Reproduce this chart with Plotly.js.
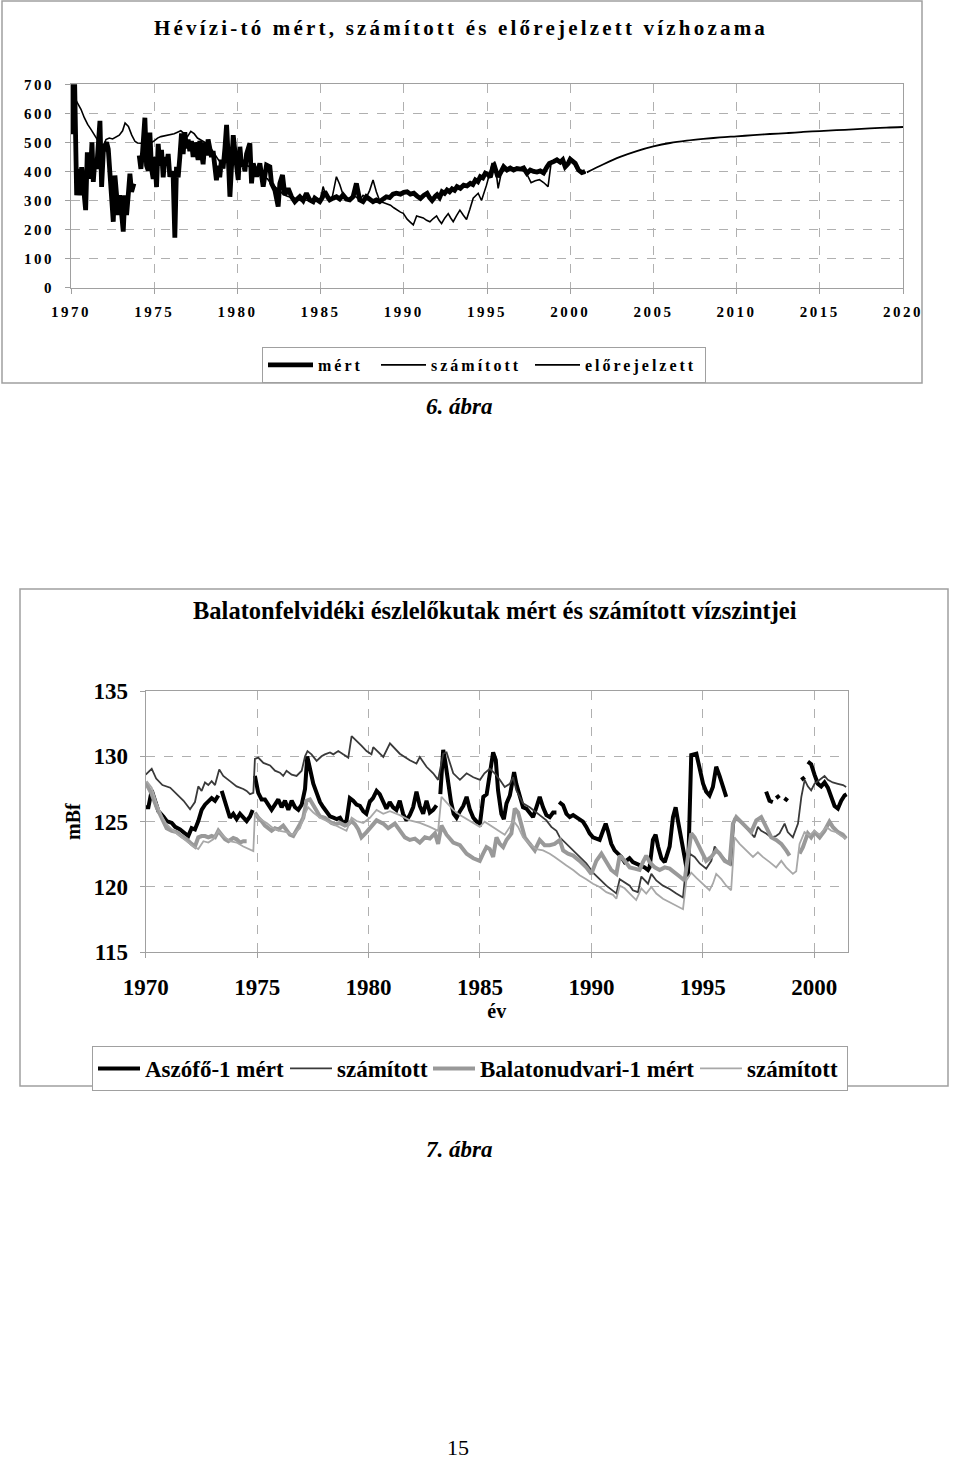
<!DOCTYPE html>
<html><head><meta charset="utf-8">
<script src="https://cdn.plot.ly/plotly-3.0.1.min.js"></script>
<style>
html,body{margin:0;padding:0;background:#fff;}
#chart{width:960px;height:1462px;}
#chart .gtitle{letter-spacing:3.2px;}
#chart .xtick text,#chart .ytick text{letter-spacing:2.5px;}
#chart .legend .legendtext{letter-spacing:3px;}
</style></head><body><div id="chart"></div><script>
// ===== 6. ábra: Hévízi-tó vízhozama (év, érték) =====
const hevMert = [[1970.00,528],[1970.10,700],[1970.22,700],[1970.34,318],[1970.44,409],[1970.54,318],[1970.64,415],[1970.74,352],[1970.88,267],[1970.98,466],
[1971.10,375],[1971.18,409],[1971.26,500],[1971.34,364],[1971.44,443],[1971.54,409],[1971.64,494],[1971.74,574],[1971.84,347],[1971.94,466],
[1972.04,489],[1972.14,500],[1972.24,477],[1972.34,386],[1972.44,284],[1972.54,227],[1972.64,386],[1972.74,318],[1972.84,250],[1972.94,318],
[1973.04,261],[1973.14,193],[1973.24,318],[1973.34,250],[1973.44,318],[1973.54,392],[1973.64,330],[1973.78,358],[1973.90,null],
[1974.10,455],[1974.20,409],[1974.30,466],[1974.44,585],[1974.54,420],[1974.64,403],[1974.74,534],[1974.84,409],[1974.94,375],
[1975.04,450],[1975.14,346],[1975.24,495],[1975.34,420],[1975.44,474],[1975.54,380],[1975.64,450],[1975.74,420],[1975.84,460],[1975.94,382],
[1976.04,400],[1976.14,382],[1976.24,172],[1976.34,416],[1976.44,380],[1976.54,450],[1976.64,531],[1976.74,460],[1976.84,535],[1976.94,480],
[1977.04,510],[1977.14,470],[1977.24,505],[1977.34,450],[1977.44,500],[1977.54,470],[1977.64,440],[1977.74,505],[1977.84,470],[1977.94,425],
[1978.04,500],[1978.14,455],[1978.24,510],[1978.34,480],[1978.44,450],[1978.54,470],[1978.64,400],[1978.74,370],[1978.84,420],[1978.94,380],
[1979.04,440],[1979.14,410],[1979.25,480],[1979.35,560],[1979.45,450],[1979.55,313],[1979.65,420],[1979.75,525],[1979.85,470],
[1980.05,371],[1980.15,485],[1980.25,416],[1980.35,440],[1980.45,400],[1980.55,460],[1980.75,497],[1980.85,359],[1980.95,428],
[1981.15,382],[1981.35,428],[1981.55,348],[1981.75,422],[1981.95,416],[1982.05,359],[1982.25,336],[1982.45,279],[1982.55,359],[1982.71,388],[1982.85,319],
[1983.05,342],[1983.25,313],[1983.45,296],[1983.60,305],[1983.75,313],[1983.95,300],[1984.15,325],[1984.35,302],[1984.55,296],[1984.65,308],[1984.80,300],[1984.95,296],
[1985.10,310],[1985.25,330],[1985.45,310],[1985.55,302],[1985.75,308],[1985.95,313],[1986.15,305],[1986.35,319],[1986.55,305],[1986.75,302],[1986.95,313],
[1987.15,359],[1987.35,302],[1987.55,296],[1987.75,313],[1987.95,305],[1988.15,296],[1988.35,302],[1988.55,296],[1988.75,305],[1988.95,313],
[1989.15,310],[1989.35,322],[1989.55,325],[1989.80,322],[1990.00,328],[1990.20,330],[1990.40,322],[1990.60,325],[1990.80,315],
[1991.00,307],[1991.20,318],[1991.40,325],[1991.55,310],[1991.70,300],[1991.90,315],[1992.00,320],[1992.15,310],[1992.30,330],[1992.45,325],[1992.60,336],[1992.75,330],[1992.90,340],
[1993.05,335],[1993.20,348],[1993.40,342],[1993.60,353],[1993.80,350],[1994.00,359],[1994.15,355],[1994.30,371],[1994.45,365],[1994.60,382],[1994.75,378],[1994.90,394],
[1995.05,390],[1995.20,380],[1995.40,428],[1995.55,390],[1995.65,382],[1995.80,394],[1996.00,416],[1996.20,405],[1996.40,412],[1996.60,405],[1996.80,410],
[1997.00,408],[1997.20,412],[1997.40,394],[1997.60,405],[1997.80,400],[1998.00,398],[1998.20,402],[1998.40,395],[1998.60,415],[1998.75,428],
[1999.00,434],[1999.20,440],[1999.40,432],[1999.55,440],[1999.70,416],[1999.85,425],[2000.00,442],[2000.15,435],[2000.30,428],[2000.50,405],[2000.70,396],[2000.90,400]];

const hevSzamitott = [[1970.20,655],[1970.30,645],[1970.45,630],[1970.60,614],[1970.80,585],[1971.00,562],[1971.20,545],[1971.40,528],[1971.60,508],[1971.75,490],[1971.90,480],
[1972.10,510],[1972.30,515],[1972.50,512],[1972.70,520],[1972.90,525],[1973.10,540],[1973.25,567],[1973.45,555],[1973.65,525],[1973.85,503],
[1974.00,498],[1974.20,497],[1974.40,498],[1974.60,497],[1974.80,498],[1975.00,505],[1975.20,515],[1975.40,520],[1975.60,522],[1975.80,525],
[1976.00,528],[1976.20,530],[1976.40,535],[1976.60,540],[1976.80,530],[1977.00,520],[1977.20,538],[1977.40,530],[1977.60,515],[1977.80,508],
[1978.00,500],[1978.20,495],[1978.40,480],[1978.60,462],[1978.80,445],[1979.00,428],[1979.20,440],[1979.40,430],[1979.60,420],[1979.80,425],
[1980.00,430],[1980.20,420],[1980.40,416],[1980.60,420],[1980.80,416],[1981.00,410],[1981.20,400],[1981.40,395],[1981.60,380],[1981.80,375],
[1982.00,360],[1982.20,350],[1982.40,340],[1982.60,330],[1982.80,320],[1983.00,315],[1983.20,312],[1983.40,310],[1983.60,305],[1983.80,300],
[1984.00,305],[1984.20,300],[1984.40,302],[1984.60,298],[1984.80,300],[1985.00,305],[1985.15,348],[1985.30,320],[1985.50,305],[1985.70,312],[1985.95,382],
[1986.15,355],[1986.35,320],[1986.55,305],[1986.75,300],[1986.95,320],[1987.15,310],[1987.35,302],[1987.55,318],[1987.75,310],[1987.95,335],
[1988.15,371],[1988.35,330],[1988.57,296],[1988.80,292],[1989.00,288],[1989.20,284],[1989.40,275],[1989.60,266],[1989.80,260],[1989.97,256],
[1990.20,236],[1990.40,225],[1990.57,216],[1990.77,247],[1990.97,243],[1991.17,240],[1991.37,232],[1991.57,227],[1991.77,238],[1991.97,247],
[1992.12,232],[1992.27,221],[1992.47,240],[1992.67,255],[1992.82,240],[1992.97,227],[1993.17,248],[1993.37,267],[1993.57,250],[1993.77,235],
[1993.97,270],[1994.17,308],[1994.47,325],[1994.67,300],[1994.97,353],[1995.27,416],[1995.47,434],[1995.67,342],[1995.87,399],
[1996.10,405],[1996.40,408],[1996.70,404],[1997.00,406],[1997.25,400],[1997.45,385],[1997.65,361],[1997.90,368],[1998.15,372],[1998.40,362],[1998.67,348],
[1998.85,428],[1999.05,432],[1999.30,438],[1999.55,435],[1999.80,420],[2000.00,438],[2000.20,430],[2000.45,405],[2000.70,398],[2000.95,397]];

const hevElorejelzettYear = [2001,2002,2003,2004,2005,2006,2007,2008,2009,2010,2011,2012,2013,2014,2015,2016,2017,2018,2019,2020];
const hevElorejelzettQ    = [397,425,450,470,486,498,506,512,517,521,525,529,532,536,539,542,545,548,551,553];

const hevXTicks = [1970,1975,1980,1985,1990,1995,2000,2005,2010,2015,2020];
const hevYTicks = [0,100,200,300,400,500,600,700];

// ===== 7. ábra: Balatonfelvidéki észlelőkutak (év, mBf) =====
const aszofoMert = [[1970.00,126.1],[1970.12,126.1],[1970.27,127.4],[1970.42,126.5],[1970.57,125.8],[1970.79,125.4],[1970.94,125.05],[1971.17,124.9],[1971.32,124.6],[1971.54,124.4],[1971.76,124.15],[1971.91,123.9],
[1972.06,124.5],[1972.21,124.4],[1972.36,125.05],[1972.51,125.9],[1972.66,126.3],[1972.81,126.6],[1972.96,126.8],[1973.11,126.6],[1973.26,127.0],[1973.33,null],[1973.41,127.35],[1973.56,126.6],[1973.66,125.9],[1973.78,125.3],[1973.93,125.6],
[1974.08,125.2],[1974.23,125.6],[1974.38,125.3],[1974.53,125.05],[1974.68,125.4],[1974.80,125.9],[1974.85,null],[1974.90,128.5],[1974.97,127.9],[1975.05,127.2],[1975.20,126.7],[1975.35,126.7],[1975.50,126.3],[1975.65,125.9],[1975.80,126.3],[1975.95,126.7],
[1976.10,126.1],[1976.25,126.6],[1976.40,125.9],[1976.55,126.6],[1976.70,126.1],[1976.85,125.9],[1977.00,126.3],[1977.15,127.5],[1977.25,130.0],[1977.37,128.9],[1977.52,127.9],[1977.67,127.2],[1977.82,126.5],[1977.97,126.1],
[1978.12,125.8],[1978.27,125.4],[1978.42,125.3],[1978.57,125.2],[1978.72,125.3],[1978.86,124.9],[1979.01,125.05],[1979.16,126.8],[1979.31,126.6],[1979.46,126.3],[1979.61,126.2],[1979.76,125.8],[1979.90,125.6],
[1980.05,126.5],[1980.20,126.8],[1980.36,127.35],[1980.50,127.1],[1980.65,126.6],[1980.80,126.0],[1980.95,126.5],[1981.10,126.1],[1981.25,125.9],[1981.40,126.6],[1981.55,125.6],[1981.70,125.1],[1981.85,125.5],
[1982.00,126.1],[1982.15,127.3],[1982.30,126.2],[1982.45,125.6],[1982.60,126.6],[1982.75,125.7],[1982.90,125.9],[1983.05,126.25],[1983.15,null],[1983.22,127.1],[1983.35,130.5],[1983.45,129.5],[1983.58,127.9],[1983.70,126.5],[1983.82,125.6],[1983.95,125.3],
[1984.10,125.8],[1984.25,126.2],[1984.40,126.9],[1984.55,125.9],[1984.70,125.3],[1984.85,125.0],[1985.00,124.85],[1985.15,126.9],[1985.30,127.1],[1985.44,128.7],[1985.59,130.3],[1985.71,129.7],[1985.81,127.4],[1985.96,125.6],
[1986.07,125.2],[1986.19,126.4],[1986.34,127.0],[1986.41,127.65],[1986.53,128.8],[1986.63,127.9],[1986.78,126.9],[1986.93,126.1],[1987.08,126.0],[1987.23,125.7],[1987.38,125.35],[1987.53,126.1],[1987.68,126.9],[1987.83,126.1],[1987.98,125.5],
[1988.13,125.35],[1988.28,125.7],[1988.43,125.7],[1988.49,null],[1988.55,126.5],[1988.73,126.25],[1988.88,125.6],[1989.03,125.35],[1989.18,125.5],[1989.33,125.35],[1989.47,125.2],[1989.62,125.0],[1989.77,124.6],[1989.92,124.1],
[1990.07,123.8],[1990.22,123.7],[1990.37,123.6],[1990.52,124.3],[1990.64,124.85],[1990.74,124.3],[1990.89,123.3],[1991.04,122.8],[1991.19,122.55],[1991.34,122.3],[1991.49,121.9],[1991.71,122.2],[1991.86,121.9],
[1992.01,121.8],[1992.16,121.65],[1992.39,121.5],[1992.54,121.3],[1992.61,121.5],[1992.76,123.6],[1992.88,124.0],[1992.99,123.1],[1993.14,122.2],[1993.29,121.9],[1993.51,123.1],[1993.66,125.35],[1993.78,126.1],[1993.88,125.1],
[1994.03,123.8],[1994.18,122.3],[1994.33,120.8],[1994.48,130.1],[1994.71,130.2],[1994.86,129.2],[1995.01,127.9],[1995.15,127.3],[1995.30,127.0],[1995.45,127.65],[1995.60,129.2],[1995.75,128.5],[1995.90,127.65],[1996.05,126.9],[1996.20,null],
[1997.84,127.3],[1997.99,126.6],[1998.14,126.5],[1998.20,null],[1998.29,126.8],[1998.44,127.0],[1998.52,null],[1998.66,126.8],[1998.81,126.6],[1998.90,null],
[1999.42,128.2],[1999.57,128.4],[1999.63,null],[1999.71,129.6],[1999.86,129.4],[2000.01,128.6],[2000.16,127.9],[2000.31,127.7],[2000.46,128.0],[2000.61,127.6],[2000.76,126.9],[2000.91,126.2],[2001.06,126.0],[2001.21,126.6],[2001.36,127.0],[2001.45,127.1]];

const aszofoSzamitott = [[1970.00,128.6],[1970.27,129.05],[1970.47,128.3],[1970.75,127.8],[1971.10,127.6],[1971.40,127.1],[1971.70,126.6],[1971.99,125.95],[1972.21,126.5],[1972.36,127.7],[1972.51,127.35],[1972.66,128.0],[1972.81,127.8],[1972.96,128.1],
[1973.11,127.8],[1973.30,129.0],[1973.48,128.5],[1973.78,128.1],[1974.08,127.7],[1974.38,127.5],[1974.53,127.35],[1974.68,127.1],[1974.83,127.2],[1974.90,129.8],[1975.05,129.9],[1975.28,129.5],[1975.58,129.3],[1975.80,128.9],
[1976.02,128.75],[1976.17,128.5],[1976.32,128.9],[1976.55,128.6],[1976.77,128.5],[1977.00,128.9],[1977.15,130.0],[1977.26,130.4],[1977.44,130.15],[1977.67,129.65],[1977.89,130.0],[1978.04,130.15],[1978.27,130.3],[1978.42,130.15],[1978.64,130.4],[1978.86,130.15],
[1979.09,129.9],[1979.24,131.55],[1979.46,131.2],[1979.69,130.8],[1979.91,130.4],[1980.13,130.15],[1980.21,130.7],[1980.66,129.95],[1980.96,131.0],[1981.40,130.2],[1981.85,129.7],[1982.15,129.45],[1982.30,129.95],[1982.60,129.2],[1982.90,128.7],
[1983.12,128.2],[1983.35,130.2],[1983.50,130.3],[1983.80,128.7],[1984.10,128.2],[1984.40,128.7],[1984.70,128.4],[1985.00,128.2],[1985.20,128.7],[1985.44,129.05],[1985.66,128.7],[1985.89,128.2],[1986.11,127.65],[1986.34,127.9],[1986.49,128.4],
[1986.63,127.4],[1986.93,126.4],[1987.23,126.1],[1987.53,125.7],[1987.75,125.35],[1987.98,125.1],[1988.20,124.6],[1988.43,124.3],[1988.58,123.8],[1988.88,123.3],[1989.18,122.8],[1989.47,122.3],[1989.77,121.8],
[1990.07,121.1],[1990.37,120.6],[1990.67,120.1],[1990.97,119.7],[1991.12,119.5],[1991.27,120.6],[1991.49,120.35],[1991.72,120.1],[1991.86,119.75],[1992.09,119.6],[1992.24,120.8],[1992.39,120.5],[1992.54,120.25],[1992.69,121.0],[1992.91,120.5],
[1993.21,120.1],[1993.51,119.85],[1993.81,119.5],[1994.11,119.2],[1994.26,121.8],[1994.41,122.55],[1994.63,122.3],[1994.86,121.8],[1995.15,121.4],[1995.38,122.0],[1995.53,123.1],[1995.75,122.55],[1996.05,122.0],[1996.27,121.65],
[1996.42,125.2],[1996.57,125.1],[1996.80,124.8],[1996.95,124.5],[1997.17,124.1],[1997.32,123.8],[1997.47,124.6],[1997.62,124.3],[1997.84,124.1],[1998.07,123.8],[1998.29,123.9],[1998.44,124.1],[1998.67,124.85],[1998.81,124.2],
[1999.04,123.8],[1999.27,124.85],[1999.42,126.9],[1999.57,128.2],[1999.71,127.7],[1999.86,127.4],[2000.01,127.9],[2000.24,128.2],[2000.46,128.5],[2000.61,128.2],[2000.83,128.0],[2001.06,127.9],[2001.29,127.8],[2001.43,127.65]];

const balatonudvariMert = [[1970.00,128.0],[1970.27,127.1],[1970.49,126.1],[1970.72,125.2],[1970.94,124.5],[1971.17,124.3],[1971.39,124.2],[1971.61,123.9],[1971.84,123.65],[1972.06,123.3],[1972.21,123.1],[1972.36,123.8],[1972.51,123.9],[1972.66,123.9],
[1972.81,123.8],[1972.96,123.9],[1973.11,123.8],[1973.26,124.3],[1973.41,124.0],[1973.56,123.65],[1973.71,123.5],[1973.93,123.75],[1974.08,123.65],[1974.23,123.4],[1974.38,123.5],[1974.53,123.5],[1974.60,null],
[1974.90,125.7],[1975.05,125.3],[1975.20,125.05],[1975.35,124.7],[1975.50,124.5],[1975.65,124.3],[1975.80,124.5],[1975.95,124.4],[1976.17,124.7],[1976.32,124.4],[1976.47,124.0],[1976.62,123.9],[1976.77,124.3],[1976.92,124.8],
[1977.07,125.3],[1977.22,126.6],[1977.37,126.7],[1977.52,126.3],[1977.67,125.9],[1977.82,125.4],[1978.04,125.3],[1978.19,125.05],[1978.34,124.9],[1978.49,124.8],[1978.71,124.9],[1978.94,124.7],[1979.09,124.8],[1979.24,125.05],[1979.39,124.8],[1979.54,124.4],[1979.68,123.8],
[1979.91,124.2],[1980.13,124.6],[1980.36,125.1],[1980.66,124.85],[1980.88,124.5],[1981.18,124.85],[1981.40,124.3],[1981.63,123.8],[1981.85,123.6],[1982.08,123.7],[1982.30,123.4],[1982.53,123.8],[1982.75,123.7],[1982.98,124.1],[1983.12,123.3],
[1983.27,124.7],[1983.50,124.0],[1983.80,123.4],[1984.10,123.2],[1984.40,122.55],[1984.70,122.2],[1984.99,122.0],[1985.14,122.55],[1985.29,123.05],[1985.44,122.9],[1985.59,122.3],[1985.74,123.8],[1985.89,123.3],[1986.04,123.05],[1986.19,123.6],[1986.41,124.1],
[1986.56,126.0],[1986.71,125.7],[1986.86,124.6],[1987.01,123.8],[1987.23,123.3],[1987.46,122.8],[1987.68,123.6],[1987.90,123.2],[1988.13,123.2],[1988.35,123.3],[1988.58,123.6],[1988.73,122.8],[1988.95,122.55],[1989.18,122.4],[1989.47,122.0],[1989.77,121.5],
[1990.00,121.0],[1990.22,122.0],[1990.45,122.55],[1990.67,121.9],[1990.89,121.3],[1991.12,121.0],[1991.27,122.4],[1991.49,122.0],[1991.72,121.5],[1991.94,121.4],[1992.16,121.3],[1992.31,121.9],[1992.46,122.4],[1992.61,121.9],[1992.84,121.5],
[1993.06,121.3],[1993.29,121.5],[1993.51,121.4],[1993.73,121.15],[1993.96,120.8],[1994.18,120.5],[1994.33,122.55],[1994.48,124.1],[1994.63,123.8],[1994.78,123.3],[1994.93,122.8],[1995.15,122.0],[1995.38,122.3],[1995.60,122.8],[1995.75,122.55],[1995.98,122.0],[1996.20,121.8],
[1996.35,124.85],[1996.50,125.35],[1996.72,125.0],[1996.95,124.6],[1997.17,124.2],[1997.40,125.1],[1997.62,125.35],[1997.84,124.6],[1998.07,123.8],[1998.29,123.6],[1998.52,123.3],[1998.74,122.8],[1998.89,122.4],[1999.10,null],
[1999.34,122.55],[1999.49,123.05],[1999.71,124.1],[1999.86,123.8],[2000.01,124.2],[2000.24,123.8],[2000.46,124.3],[2000.68,125.0],[2000.83,124.6],[2001.06,124.2],[2001.28,124.0],[2001.43,123.7]];

const balatonudvariSzamitott = [[1970.04,128.1],[1970.27,127.6],[1970.49,126.45],[1970.72,125.4],[1970.94,124.8],[1971.24,124.3],[1971.54,123.9],[1971.84,123.5],[1972.14,123.1],[1972.36,122.9],[1972.59,123.5],[1972.81,123.4],[1973.03,123.65],[1973.26,124.3],
[1973.48,123.9],[1973.78,123.5],[1974.08,123.4],[1974.38,123.1],[1974.68,122.9],[1974.83,122.75],[1974.90,125.6],[1975.13,125.2],[1975.43,124.9],[1975.72,124.5],[1976.02,124.3],[1976.32,124.2],[1976.62,124.0],[1976.92,124.5],
[1977.14,125.6],[1977.29,126.1],[1977.52,125.7],[1977.82,125.3],[1978.12,125.05],[1978.42,124.8],[1978.71,124.55],[1979.01,124.3],[1979.24,125.3],[1979.46,125.05],[1979.76,124.9],[1980.06,125.3],[1980.36,125.9],[1980.66,125.6],[1980.96,125.8],
[1981.40,125.5],[1981.85,125.1],[1982.30,124.9],[1982.75,124.6],[1983.12,124.3],[1983.27,126.9],[1983.50,126.5],[1983.80,125.9],[1984.10,125.5],[1984.40,125.2],[1984.70,124.9],[1984.99,124.6],[1985.21,125.0],[1985.44,124.75],[1985.66,124.5],
[1985.89,124.2],[1986.11,124.0],[1986.34,124.6],[1986.49,125.1],[1986.71,124.6],[1986.93,123.8],[1987.23,123.3],[1987.53,122.9],[1987.83,122.8],[1988.13,122.55],[1988.35,122.3],[1988.58,122.0],[1988.88,121.65],[1989.18,121.3],[1989.47,120.9],
[1989.77,120.6],[1990.07,120.25],[1990.37,120.0],[1990.67,119.6],[1990.97,119.4],[1991.12,119.1],[1991.27,120.1],[1991.49,119.9],[1991.72,119.5],[1992.01,119.0],[1992.24,119.9],[1992.46,119.5],[1992.69,120.0],[1992.91,119.5],
[1993.21,119.1],[1993.51,118.85],[1993.81,118.6],[1994.11,118.3],[1994.26,120.5],[1994.48,121.1],[1994.71,120.7],[1995.01,120.25],[1995.30,119.75],[1995.45,120.25],[1995.60,121.0],[1995.83,120.6],[1996.05,120.1],[1996.27,119.75],
[1996.42,123.8],[1996.65,123.3],[1996.95,122.8],[1997.25,122.3],[1997.47,122.65],[1997.69,122.3],[1998.00,121.9],[1998.29,121.5],[1998.52,122.0],[1998.74,121.5],[1999.04,121.0],[1999.19,121.2],[1999.34,123.3],[1999.56,124.2],
[1999.78,123.95],[2000.01,124.3],[2000.24,124.0],[2000.54,124.6],[2000.76,124.3],[2000.98,124.2],[2001.21,123.9],[2001.43,123.7]];

const balXTicks = [1970,1975,1980,1985,1990,1995,2000];
const balYTicks = [115,120,125,130,135];

// ===== layout helpers (page pixels -> paper) =====
const W = 960, H = 1462;
const px = v => v / W, py = v => 1 - v / H;
const serif = 'Liberation Serif, Times New Roman, serif';
const xs = a => a.map(p => p[0]), ys = a => a.map(p => p[1]);
const axBase = {showgrid:true, gridcolor:'#b0b0b0', griddash:'dash', gridwidth:1, showline:true, linecolor:'#a0a0a0', linewidth:1,
  mirror:true, ticks:'outside', tickcolor:'#a0a0a0', ticklen:5, zeroline:false, fixedrange:true};

const traces = [
  {type:'scatter', mode:'lines', name:'mért', x:xs(hevMert), y:ys(hevMert), xaxis:'x', yaxis:'y', legend:'legend',
   line:{color:'#000', width:4.8}, legendwidth:53},
  {type:'scatter', mode:'lines', name:'számított', x:xs(hevSzamitott), y:ys(hevSzamitott), xaxis:'x', yaxis:'y', legend:'legend',
   line:{color:'#000', width:1.6}, legendwidth:94},
  {type:'scatter', mode:'lines', name:'előrejelzett', x:hevElorejelzettYear, y:hevElorejelzettQ, xaxis:'x', yaxis:'y', legend:'legend',
   line:{color:'#000', width:1.8, shape:'spline'}, legendwidth:115},
  {type:'scatter', mode:'lines', name:'Aszófő-1 mért', x:xs(aszofoMert), y:ys(aszofoMert), xaxis:'x2', yaxis:'y2', legend:'legend2',
   line:{color:'#000', width:4}, legendwidth:135},
  {type:'scatter', mode:'lines', name:'számított', x:xs(aszofoSzamitott), y:ys(aszofoSzamitott), xaxis:'x2', yaxis:'y2', legend:'legend2',
   line:{color:'#3a3a3a', width:1.8}, legendwidth:86},
  {type:'scatter', mode:'lines', name:'Balatonudvari-1 mért', x:xs(balatonudvariMert), y:ys(balatonudvariMert), xaxis:'x2', yaxis:'y2', legend:'legend2',
   line:{color:'#999999', width:4}, legendwidth:210},
  {type:'scatter', mode:'lines', name:'számított', x:xs(balatonudvariSzamitott), y:ys(balatonudvariSzamitott), xaxis:'x2', yaxis:'y2', legend:'legend2',
   line:{color:'#a8a8a8', width:1.8}, legendwidth:95}
];

const f1 = {family:serif, size:15, color:'#000', weight:'bold'};
const f2 = {family:serif, size:23, color:'#000', weight:'bold'};

const layout = {
  width:W, height:H, margin:{l:0, r:0, t:0, b:0, pad:0}, paper_bgcolor:'#fff', plot_bgcolor:'#fff',
  showlegend:true, hovermode:false,
  title:{text:'Hévízi-tó mért, számított és előrejelzett vízhozama', x:px(461), y:py(28), xref:'paper', yref:'paper',
    xanchor:'center', yanchor:'middle', font:{family:serif, size:21, color:'#000', weight:'bold'}},
  xaxis:Object.assign({}, axBase, {domain:[px(71), px(903)], range:[1970,2020], anchor:'y',
    tickvals:hevXTicks, ticktext:hevXTicks.map(String), tickfont:f1, ticklabelstandoff:5}),
  yaxis:Object.assign({}, axBase, {domain:[py(287.7), py(84.3)], range:[0,700], anchor:'x',
    tickvals:hevYTicks, ticktext:hevYTicks.map(String), tickfont:f1, ticklabelstandoff:8}),
  xaxis2:Object.assign({}, axBase, {domain:[px(145.7), px(847.7)], range:[1970,2001.5], anchor:'y2',
    tickvals:balXTicks, ticktext:balXTicks.map(String), tickfont:f2, ticklabelstandoff:9,
    title:{text:'év', font:{family:serif, size:20, color:'#000', weight:'bold'}, standoff:4}}),
  yaxis2:Object.assign({}, axBase, {domain:[py(952.3), py(691)], range:[115,135], anchor:'x2',
    tickvals:balYTicks, ticktext:balYTicks.map(String), tickfont:f2, ticklabelstandoff:7,
    title:{text:'mBf', font:{family:serif, size:20, color:'#000', weight:'bold'}, standoff:7}}),
  legend:{x:px(262), y:py(347), xanchor:'left', yanchor:'top', orientation:'h', bgcolor:'#fff',
    bordercolor:'#a0a0a0', borderwidth:1, font:{family:serif, size:16, color:'#000', weight:'bold'}, itemwidth:45,
    traceorder:'normal', itemclick:false, itemdoubleclick:false},
  legend2:{x:px(92), y:py(1046), xanchor:'left', yanchor:'top', orientation:'h', bgcolor:'#fff',
    bordercolor:'#a0a0a0', borderwidth:1, font:{family:serif, size:23, color:'#000', weight:'bold'}, itemwidth:42,
    traceorder:'normal', itemclick:false, itemdoubleclick:false},
  shapes:[
    {type:'rect', xref:'paper', yref:'paper', x0:px(2), x1:px(922), y0:py(383), y1:py(1), line:{color:'#a0a0a0', width:1.5}, layer:'below'},
    {type:'rect', xref:'paper', yref:'paper', x0:px(20), x1:px(948), y0:py(1086), y1:py(589), line:{color:'#a0a0a0', width:1.5}, layer:'below'}
  ],
  annotations:[
    {text:'Balatonfelvidéki észlelőkutak mért és számított vízszintjei', x:px(495), y:py(611), xref:'paper', yref:'paper',
     xanchor:'center', yanchor:'middle', showarrow:false, font:{family:serif, size:24.5, color:'#000', weight:'bold'}},
    {text:'6. ábra', x:px(459), y:py(406), xref:'paper', yref:'paper', xanchor:'center', yanchor:'middle', showarrow:false,
     font:{family:serif, size:23, color:'#000', weight:'bold', style:'italic'}},
    {text:'7. ábra', x:px(459), y:py(1149), xref:'paper', yref:'paper', xanchor:'center', yanchor:'middle', showarrow:false,
     font:{family:serif, size:23, color:'#000', weight:'bold', style:'italic'}},
    {text:'15', x:px(458), y:py(1447), xref:'paper', yref:'paper', xanchor:'center', yanchor:'middle', showarrow:false,
     font:{family:serif, size:22, color:'#000'}}
  ]
};

Plotly.newPlot('chart', traces, layout, {staticPlot:true, displayModeBar:false});
</script></body></html>
